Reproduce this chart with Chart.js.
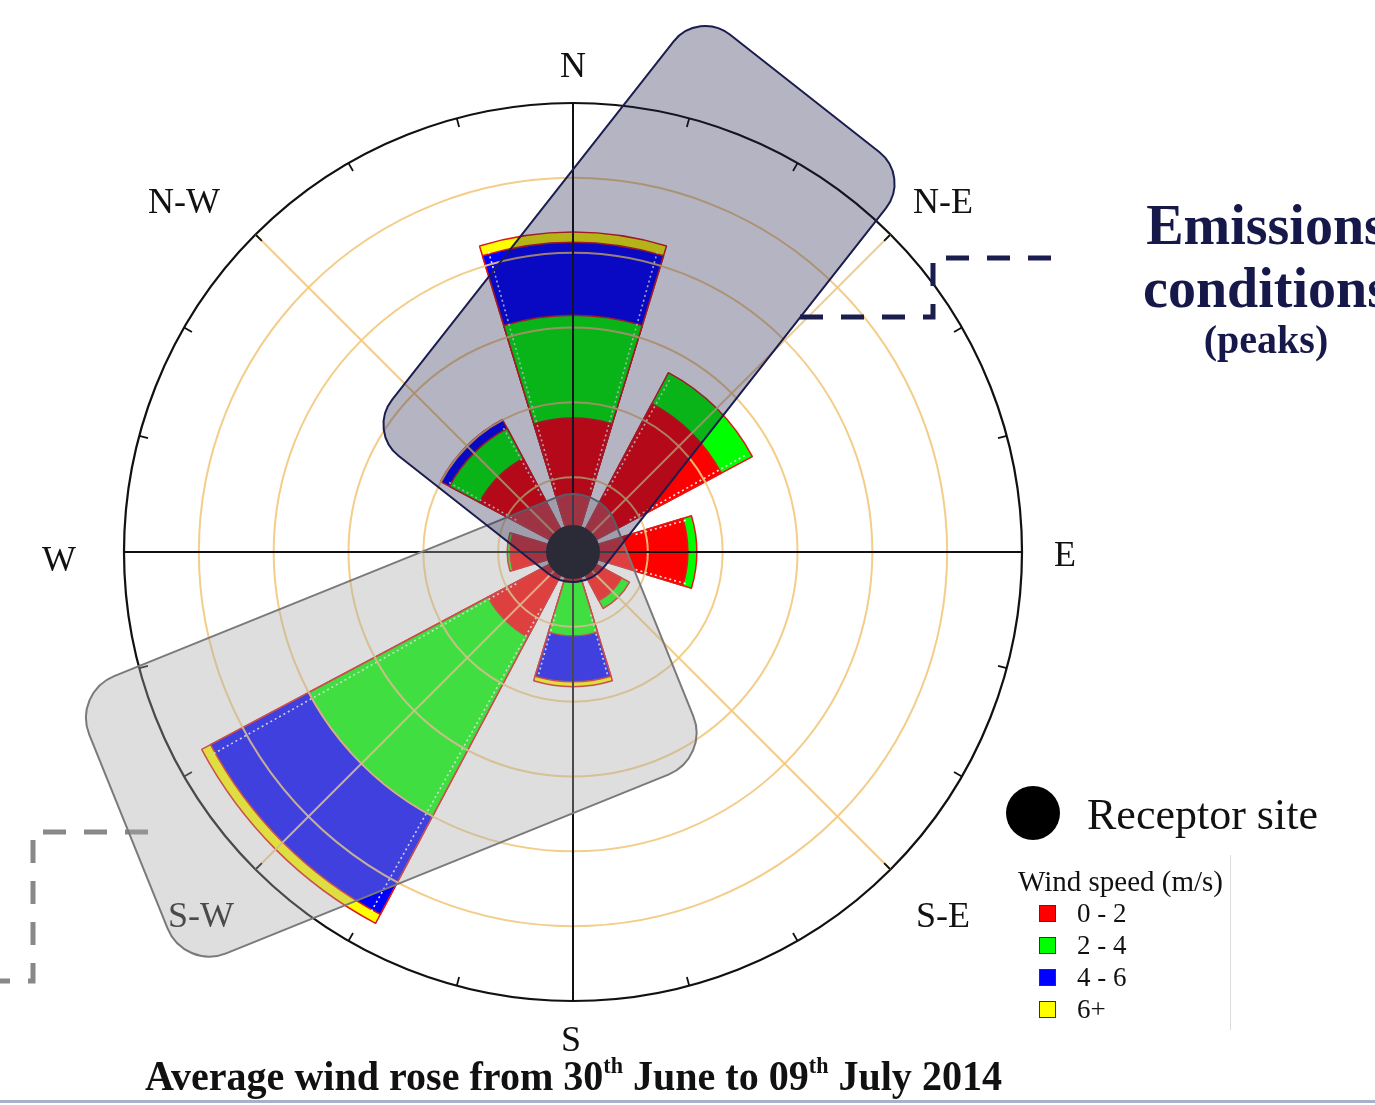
<!DOCTYPE html>
<html>
<head>
<meta charset="utf-8">
<title>Average wind rose</title>
<script src="https://cdn.jsdelivr.net/npm/chart.js@4.4.1/dist/chart.umd.min.js"></script>
<style>
  html, body { margin: 0; padding: 0; background: #fff; overflow: hidden; }
  #wrap { position: relative; width: 1375px; height: 1105px; overflow: hidden; }
  #chart { position: absolute; left: 0; top: 0; }
  .txt { position: absolute; white-space: nowrap; line-height: 1; font-family: "Liberation Serif", "DejaVu Serif", serif; color: #111; }
  .emis { color: #16184a; font-weight: bold; transform: translateX(-50%); left: 1266px; }
  #title { left: 145px; top: 1055px; font-size: 42px; font-weight: bold; transform-origin: 0 0; }
  #title sup { font-size: 0.55em; vertical-align: 0.72em; line-height: 0; }
  .swatch { position: absolute; width: 15px; height: 15px; border: 1px solid #333; }
  #bottomline { position: absolute; left: 0; top: 1100px; width: 1375px; height: 3px; background: #a9b0cc; }
</style>
</head>
<body>
<div id="wrap">
  <canvas id="chart" width="1375" height="1105"></canvas>
  <div class="txt emis" style="top:197px;font-size:56px;">Emissions</div>
  <div class="txt emis" style="top:260px;font-size:56px;">conditions</div>
  <div class="txt emis" style="top:320px;font-size:40px;">(peaks)</div>
  <div class="txt" style="left:1087px;top:793px;font-size:44px;">Receptor site</div>
  <div class="txt" style="left:1018px;top:867px;font-size:29px;">Wind speed (m/s)</div>
  <div id="legend"></div>
  <div style="position:absolute;left:1230px;top:855px;width:1px;height:175px;background:#ddd;"></div>
  <div id="title" class="txt">Average wind rose from 30<sup>th</sup> June to 09<sup>th</sup> July 2014</div>
  <div id="bottomline"></div>
</div>
<script>
// wind directions, clockwise from north
var directions = ["N", "N-E", "E", "S-E", "S", "S-W", "W", "N-W"];
var speedBins = ["0 - 2", "2 - 4", "4 - 6", "6+"];
var binColors = ["#ff0000", "#00ff00", "#0000ff", "#ffff00"];

// frequency (%) of each speed class per direction
var speed0to2 = [3.58, 4.49, 3.07, 1.47, 0.80, 2.57, 1.68, 2.83];
var speed2to4 = [2.75, 0.94, 0.24, 0.24, 1.44, 5.43, 0.08, 0.91];
var speed4to6 = [1.95, 0, 0, 0, 1.23, 2.97, 0, 0.27];
var speed6up  = [0.27, 0, 0, 0, 0.13, 0.27, 0, 0];

var ringMax = 12;
var ringStep = 2;

// each direction = one wedge followed by an empty gap
var wedgeAngle = 34;
var gapAngle = 11;

var labels = [];
directions.forEach(function(d) { labels.push(d); labels.push(""); });

var series = [speed0to2, speed2to4, speed4to6, speed6up];
var running = directions.map(function() { return 0; });
var datasets = series.map(function(vals, k) {
    var data = [], bg = [], bc = [], bw = [], ang = [];
    vals.forEach(function(v, i) {
        running[i] = Math.round((running[i] + v) * 100) / 100;
        data.push(running[i]); data.push(0);
        bg.push(v > 0 ? binColors[k] : "rgba(0,0,0,0)"); bg.push("rgba(0,0,0,0)");
        bc.push(v > 0 ? "#e01818" : "rgba(0,0,0,0)"); bc.push("rgba(0,0,0,0)");
        bw.push(v > 0 ? 1.5 : 0); bw.push(0);
        ang.push(wedgeAngle); ang.push(gapAngle);
    });
    return { label: speedBins[k], data: data, backgroundColor: bg, borderColor: bc, borderWidth: bw, angle: ang };
});

// legend
var legend = document.getElementById("legend");
speedBins.forEach(function(name, k) {
    var sw = document.createElement("div");
    sw.className = "swatch";
    sw.style.left = "1039px";
    sw.style.top = (905 + k * 32) + "px";
    sw.style.background = binColors[k];
    legend.appendChild(sw);
    var t = document.createElement("div");
    t.className = "txt";
    t.style.left = "1077px";
    t.style.top = (900 + k * 32) + "px";
    t.style.fontSize = "27px";
    t.textContent = name;
    legend.appendChild(t);
});

function roundRectPath(ctx, x, y, w, h, r) {
    ctx.beginPath();
    ctx.moveTo(x + r, y);
    ctx.lineTo(x + w - r, y);
    ctx.arcTo(x + w, y, x + w, y + r, r);
    ctx.lineTo(x + w, y + h - r);
    ctx.arcTo(x + w, y + h, x + w - r, y + h, r);
    ctx.lineTo(x + r, y + h);
    ctx.arcTo(x, y + h, x, y + h - r, r);
    ctx.lineTo(x, y + r);
    ctx.arcTo(x, y, x + r, y, r);
    ctx.closePath();
}

var rosePlugin = {
    id: "rose",
    afterDatasetsDraw: function(chart) {
        // white dotted inner edges of the long wedges
        var ctx = chart.ctx;
        var meta = chart.getDatasetMeta(datasets.length - 1);
        ctx.save();
        ctx.strokeStyle = "rgba(255,255,255,0.9)";
        ctx.lineWidth = 1.6;
        ctx.setLineDash([2, 3]);
        for (var i = 0; i < meta.data.length; i += 2) {
            var p = meta.data[i].getProps(["x", "y", "startAngle", "endAngle", "outerRadius"], true);
            if (p.outerRadius < 90) continue;
            var d = 1.3 * Math.PI / 180;
            [p.startAngle + d, p.endAngle - d].forEach(function(a) {
                ctx.beginPath();
                ctx.moveTo(p.x + 65 * Math.cos(a), p.y + 65 * Math.sin(a));
                ctx.lineTo(p.x + (p.outerRadius - 5) * Math.cos(a), p.y + (p.outerRadius - 5) * Math.sin(a));
                ctx.stroke();
            });
        }
        ctx.restore();
    },
    afterDraw: function(chart) {
        var ctx = chart.ctx;
        var sc = chart.scales.r;
        var cx = sc.xCenter, cy = sc.yCenter;
        var R = sc.getDistanceFromCenterForValue(ringMax);
        ctx.save();

        // diagonal spokes
        ctx.strokeStyle = "rgba(242,200,125,0.9)";
        ctx.lineWidth = 2;
        [45, 135, 225, 315].forEach(function(deg) {
            var a = deg * Math.PI / 180;
            ctx.beginPath();
            ctx.moveTo(cx, cy);
            ctx.lineTo(cx + R * Math.sin(a), cy - R * Math.cos(a));
            ctx.stroke();
        });
        // N-S and E-W axes
        ctx.strokeStyle = "#111";
        ctx.lineWidth = 2;
        ctx.beginPath();
        ctx.moveTo(cx - R, cy); ctx.lineTo(cx + R, cy);
        ctx.moveTo(cx, cy - R); ctx.lineTo(cx, cy + R);
        ctx.stroke();
        // ticks every 15 degrees
        ctx.lineWidth = 1.8;
        for (var deg = 0; deg < 360; deg += 15) {
            var a = deg * Math.PI / 180;
            ctx.beginPath();
            ctx.moveTo(cx + R * Math.sin(a), cy - R * Math.cos(a));
            ctx.lineTo(cx + (R - 9) * Math.sin(a), cy - (R - 9) * Math.cos(a));
            ctx.stroke();
        }

        // direction labels
        var labelOffsets = [[0, -484], [370, -348], [492, 5], [370, 366], [-2, 490], [-372, 366], [-514, 10], [-389, -348]];
        ctx.fillStyle = "#111";
        ctx.font = '36px "Liberation Serif", serif';
        ctx.textAlign = "center";
        ctx.textBaseline = "middle";
        directions.forEach(function(d, i) {
            ctx.fillText(d, cx + labelOffsets[i][0], cy + labelOffsets[i][1]);
        });

        // dashed connectors
        ctx.lineWidth = 5;
        ctx.setLineDash([23, 18]);
        ctx.strokeStyle = "#888";
        ctx.beginPath();
        ctx.moveTo(148, 832); ctx.lineTo(33, 832); ctx.lineTo(33, 981); ctx.lineTo(0, 981);
        ctx.stroke();
        ctx.strokeStyle = "#1b1d4e";
        ctx.beginPath();
        ctx.moveTo(800, 317); ctx.lineTo(933, 317); ctx.lineTo(933, 258); ctx.lineTo(1060, 258);
        ctx.stroke();
        ctx.setLineDash([]);

        // highlighted sectors
        ctx.save();
        ctx.translate(cx - 182, cy + 174);
        ctx.rotate(-22 * Math.PI / 180);
        roundRectPath(ctx, -283, -150, 567, 299, 45);
        ctx.fillStyle = "rgba(168,168,168,0.38)";
        ctx.fill();
        ctx.strokeStyle = "#7a7a7a";
        ctx.lineWidth = 2;
        ctx.stroke();
        ctx.restore();

        ctx.save();
        ctx.translate(cx + 66, cy - 248);
        ctx.rotate(-51.85 * Math.PI / 180);
        roundRectPath(ctx, -268, -135, 536, 270, 40);
        ctx.fillStyle = "rgba(26,26,74,0.33)";
        ctx.fill();
        ctx.strokeStyle = "#1a1d4d";
        ctx.lineWidth = 2;
        ctx.stroke();
        ctx.restore();

        // receptor site at the centre
        ctx.fillStyle = "#2b2b38";
        ctx.beginPath();
        ctx.arc(cx, cy, 27, 0, Math.PI * 2);
        ctx.fill();
        // legend marker
        ctx.fillStyle = "#000";
        ctx.beginPath();
        ctx.arc(1033, 813, 27, 0, Math.PI * 2);
        ctx.fill();
        ctx.restore();
    }
};

var chart = new Chart(document.getElementById("chart"), {
    type: "polarArea",
    data: { labels: labels, datasets: datasets },
    options: {
        responsive: false,
        animation: false,
        events: [],
        layout: { padding: { left: 124, right: 353, top: 103, bottom: 104 } },
        plugins: { legend: { display: false }, tooltip: { enabled: false } },
        scales: {
            r: {
                min: 0,
                max: ringMax,
                startAngle: -wedgeAngle / 2,
                z: 1,
                ticks: { display: false, stepSize: ringStep },
                pointLabels: { display: false },
                angleLines: { display: false },
                grid: {
                    z: 1,
                    circular: true,
                    color: function(c) { return c.tick && c.tick.value >= ringMax ? "#111" : "rgba(242,200,125,0.9)"; },
                    lineWidth: function(c) { return c.tick && c.tick.value >= ringMax ? 2.2 : 2; }
                }
            }
        }
    },
    plugins: [rosePlugin]
});

// squeeze the caption to the width of the original
var title = document.getElementById("title");
var tw = title.getBoundingClientRect().width;
title.style.transform = "scaleX(" + (857 / tw) + ")";
</script>
</body>
</html>
